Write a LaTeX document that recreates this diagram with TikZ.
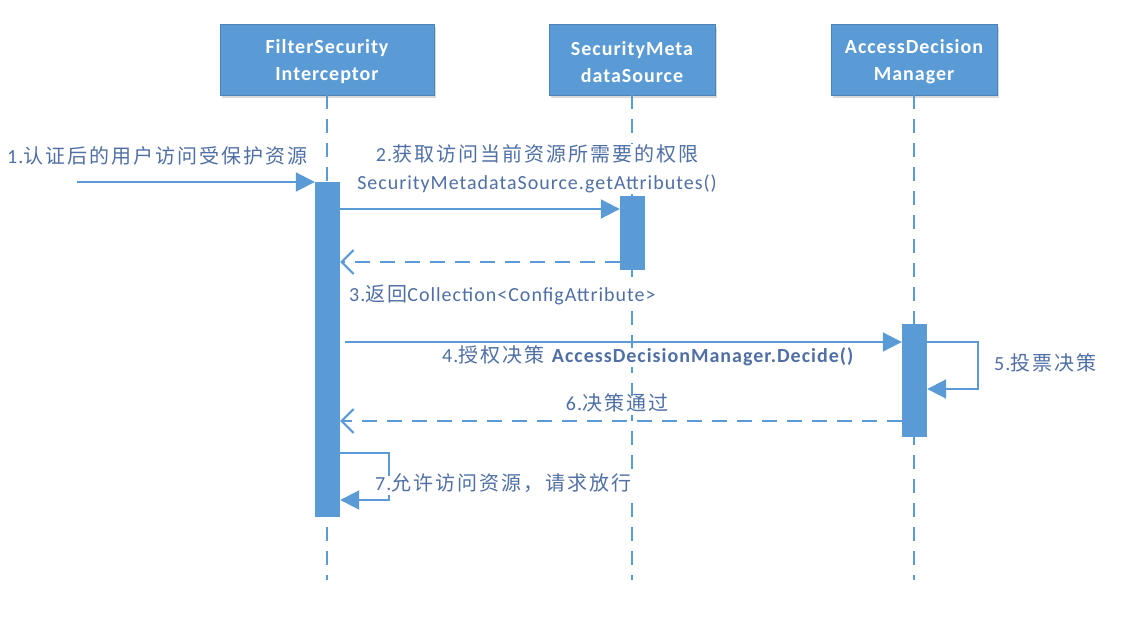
\documentclass[tikz,border=0pt]{standalone}
\usepackage{fontspec}
\setmainfont{Carlito}[LetterSpace=5]
\newfontfamily\cjk{Noto Sans CJK SC}[LetterSpace=10]
\usetikzlibrary{arrows.meta,shadows}
\definecolor{boxblue}{RGB}{91,155,213}
\definecolor{lineblue}{RGB}{91,155,213}
\definecolor{txtblue}{RGB}{80,112,165}
\begin{document}
\begin{tikzpicture}[x=1pt,y=-1pt,
  headbox/.style={fill=boxblue, draw=boxblue!85!black, line width=0.6pt,
    minimum height=71pt, inner sep=0pt,
    drop shadow={shadow xshift=2pt, shadow yshift=-3pt, opacity=0.15, fill=black}},
  headtext/.style={text=white, align=center, inner sep=0pt,
    font=\bfseries\fontsize{20}{27}\selectfont},
  lifeline/.style={draw=lineblue, line width=2pt, dash pattern=on 14pt off 10pt},
  actbar/.style={fill=boxblue, draw=none, minimum width=25pt, inner sep=0pt, anchor=north},
  msg/.style={draw=lineblue, line width=2pt, -{Triangle[length=19pt,width=19pt]}},
  ret/.style={draw=lineblue, line width=2pt, dash pattern=on 15pt off 10pt,
    -{Straight Barb[length=12pt,width=24pt,line width=2pt]}},
  lbl/.style={text=txtblue, font=\fontsize{20}{28}\selectfont, fill=white,
    inner xsep=2pt, inner ysep=0pt, text height=15pt, text depth=4pt},
  lbltwo/.style={text=txtblue, font=\fontsize{20}{28}\selectfont, fill=white,
    inner sep=1pt, align=center}
]
\path[use as bounding box] (0,0) rectangle (1128,624);

% lifeline ends
\coordinate (fsiEnd) at (327,580);
\coordinate (smsEnd) at (632,580);
\coordinate (admEnd) at (914,580);

% heads
\node[headbox, minimum width=214pt] (fsi) at (327,59.5) {};
\node[headbox, minimum width=166pt] (sms) at (632,59.5) {};
\node[headbox, minimum width=166pt] (adm) at (914,59.5) {};
\node[headtext] (fsiT) at ([yshift=-2.5pt]fsi.center) {FilterSecurity\\Interceptor};
\node[headtext] (smsT) at ([yshift=-2.5pt]sms.center) {SecurityMeta\\dataSource};
\node[headtext] (admT) at ([yshift=-2.5pt]adm.center) {AccessDecision\\Manager};

\draw[lifeline] (fsi.south) -- (fsiEnd);
\draw[lifeline] (sms.south) -- (smsEnd);
\draw[lifeline] (adm.south) -- (admEnd);

% activation bars
\node[actbar, minimum height=335pt] (fsiBar) at (327.5,182) {};
\node[actbar, minimum height=74pt] (smsBar) at (632.5,196) {};
\node[actbar, minimum height=113pt] (admBar) at (914.5,324) {};

% 1
\coordinate (user) at (77,182);
\draw[msg] (user) -- (user -| fsiBar.west);
\node[lbl, anchor=west] (l1) at (5,158) {1.{\cjk 认证后的用户访问受保护资源}};

% 2
\draw[msg] (fsiBar.east |- 0,209) -- (smsBar.west |- 0,209);
\node[lbltwo] (l2) at (537,169) {2.{\cjk 获取访问当前资源所需要的权限}\\SecurityMetadataSource.getAttributes()};

% 3
\draw[ret] (smsBar.west |- 0,262) -- (fsiBar.east |- 0,262);
\node[lbl, anchor=west] (l3) at (347,296) {3.{\cjk 返回}Collection<ConfigAttribute>};

% 4
\draw[msg] ([xshift=5pt]fsiBar.east |- 0,342) -- (admBar.west |- 0,342);
\node[lbl, anchor=west] (l4) at (440,357) {4.{\cjk 授权决策} \textbf{AccessDecisionManager.Decide()}};

% 5
\coordinate (c5a) at (978,342);
\coordinate (c5b) at (978,389);
\draw[msg] (admBar.east |- c5a) -- (c5a) -- (c5b) -- (admBar.east |- c5b);
\node[lbl, anchor=west] (l5) at (992,365) {5.{\cjk 投票决策}};

% 6
\draw[ret] (admBar.west |- 0,421) -- (fsiBar.east |- 0,421);
\node[lbl] (l6) at (617,405) {6.{\cjk 决策通过}};

% 7
\coordinate (c7a) at (389,453);
\coordinate (c7b) at (389,500);
\draw[msg] (fsiBar.east |- c7a) -- (c7a) -- (c7b) -- (fsiBar.east |- c7b);
\node[lbl, anchor=west] (l7) at (373,485) {7.{\cjk 允许访问资源，请求放行}};
\end{tikzpicture}
\end{document}
